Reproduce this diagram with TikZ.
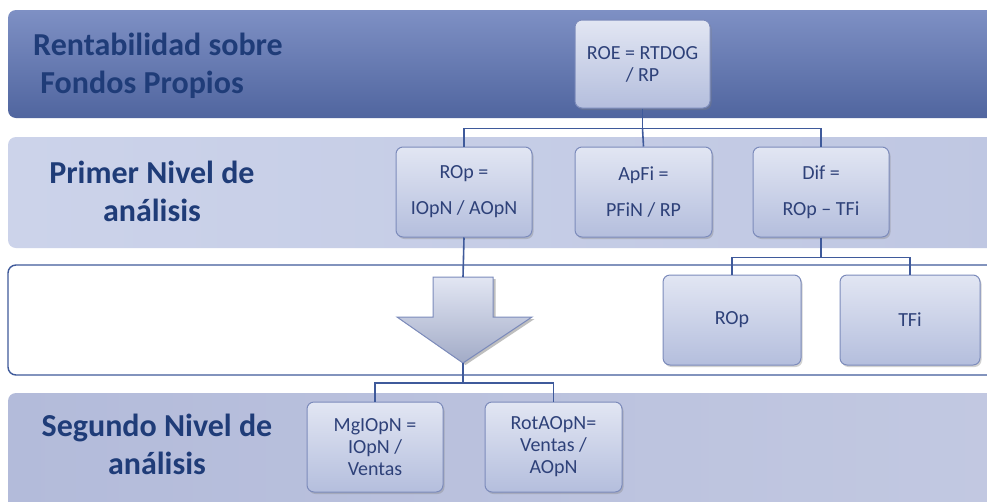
\documentclass[tikz,border=0pt]{standalone}
\usepackage{fontspec}
\setmainfont{Carlito}
\usetikzlibrary{shadows}
\definecolor{navy}{HTML}{1F3C78}
\definecolor{boxtxt}{HTML}{2E4179}
\definecolor{linec}{HTML}{3F5A9B}
\definecolor{bandAtop}{HTML}{7E90C4}
\definecolor{bandAbot}{HTML}{50659F}
\definecolor{bandB}{HTML}{BFC7E2}
\definecolor{bandBtop}{HTML}{CCD3EA}
\definecolor{bandD}{HTML}{B3BBDA}
\definecolor{boxtop}{HTML}{E2E6F3}
\definecolor{boxbot}{HTML}{B4BEDD}
\definecolor{boxdraw}{HTML}{7C8BBB}
\tikzset{
  band/.style={rounded corners=8pt},
  bandlabel/.style={font=\fontsize{32}{38}\selectfont\bfseries, text=navy, inner sep=0pt},
  fbox/.style={draw=boxdraw, line width=1pt, rounded corners=7pt, top color=boxtop, bottom color=boxbot,
    drop shadow={opacity=0.35, shadow xshift=1.5pt, shadow yshift=-2pt},
    text=boxtxt, font=\fontsize{20}{22}\selectfont, align=center, inner sep=0pt},
  conn/.style={draw=linec, line width=1.6pt},
}
\begin{document}
\begin{tikzpicture}[x=1pt,y=-1pt]
\useasboundingbox (0,0) rectangle (987,501);
\clip (0,0) rectangle (987,501);
\fill[white] (0,0) rectangle (987,501);
% bands
\shade[band, top color=bandAtop, bottom color=bandAbot] (8,10) rectangle (1010,118);
\shade[band, left color=bandBtop, right color=bandB] (8,137) rectangle (1010,248);
\draw[band, fill=white, draw=linec, line width=1.4pt] (8,265) rectangle (1010,375);
\shade[band, left color=bandD, right color=bandD!80!white] (8,393) rectangle (1010,520);
% band labels
\node[bandlabel, anchor=west, align=left] (l1) at (33,66) {Rentabilidad sobre\\\ Fondos Propios};
\node[bandlabel, align=center] (l2) at (152,191) {Primer Nivel de\\análisis};
\node[bandlabel, align=center] (l4) at (157,444) {Segundo Nivel de\\análisis};
% boxes
\node[fbox, minimum width=135pt, minimum height=88pt] (roe) at (642.5,64) {ROE = RTDOG\\/ RP};
\node[fbox, minimum width=136pt, minimum height=90pt] (rop1) at (464,192) {ROp =\\[14pt]IOpN / AOpN};
\node[fbox, minimum width=137pt, minimum height=90pt] (apfi) at (643.5,192) {ApFi =\\[14pt]PFiN / RP};
\node[fbox, minimum width=136pt, minimum height=90pt] (dif) at (821,192) {Dif =\\[14pt]ROp -- TFi};
\node[fbox, minimum width=138pt, minimum height=90pt] (rop2) at (732,320) {ROp};
\node[fbox, minimum width=140pt, minimum height=90pt] (tfi) at (910,320) {TFi};
\node[fbox, minimum width=136pt, minimum height=90pt] (mg) at (375,447) {MgIOpN =\\IOpN /\\Ventas};
\node[fbox, minimum width=137pt, minimum height=90pt] (rot) at (553.5,447) {RotAOpN=\\Ventas /\\AOpN};
% block arrow
\coordinate (arrtop) at (463,277);
\coordinate (arrtip) at (463,363);
\fill[black, opacity=0.25] (435.5,279) -- (495.5,279) -- (495.5,319) -- (534.5,319) -- (465.5,365) -- (399.5,319) -- (435.5,319) -- cycle;
\draw[draw=boxdraw, line width=1pt, top color=boxtop, bottom color=boxbot!90!black]
  (433,277) -- (493,277) -- (493,317) -- (532,317) -- (arrtip) -- (397,317) -- (433,317) -- cycle;
% connectors
\draw[conn] (roe.south) -- ++(0,20) coordinate (j1);
\draw[conn] (rop1.north) |- (j1) -| (dif.north);
\draw[conn] (j1) -- (apfi.north);
\draw[conn] (rop1.south) -- (arrtop);
\draw[conn] (dif.south) -- ++(0,20) coordinate (j2);
\draw[conn] (rop2.north) |- (j2) -| (tfi.north);
\draw[conn] (arrtip) -- ++(0,20) coordinate (j3);
\draw[conn] (mg.north) |- (j3) -| (rot.north);
\end{tikzpicture}
\end{document}
